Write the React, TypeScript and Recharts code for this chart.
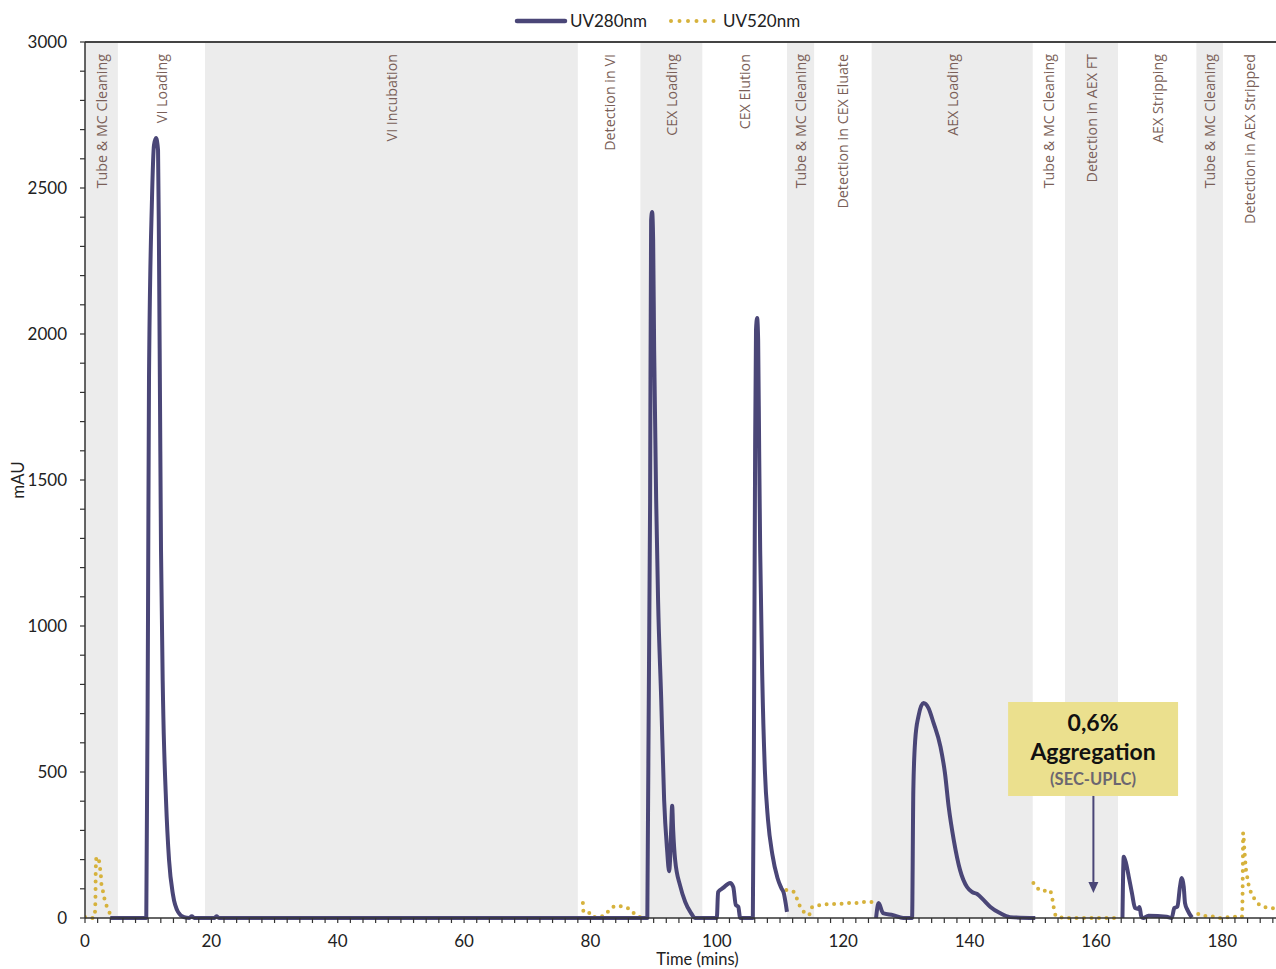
import React from 'react';
import { LineChart, Line, XAxis, YAxis, ReferenceArea, ReferenceLine } from 'recharts';

// process phases (minutes)
const bandStart = [0, 5.2, 19.0, 78.0, 87.9, 97.7, 111.1, 115.4, 124.5, 150.0, 155.1, 163.5, 175.9, 180.1];
const bandEnd = [5.2, 19.0, 78.0, 87.9, 97.7, 111.1, 115.4, 124.5, 150.0, 155.1, 163.5, 175.9, 180.1, 188.5];
const bandNames = [
  'Tube & MC Cleaning', 'VI Loading', 'VI Incubation', 'Detection in VI', 'CEX Loading', 'CEX Elution',
  'Tube & MC Cleaning', 'Detection in CEX Eluate', 'AEX Loading', 'Tube & MC Cleaning', 'Detection in AEX FT',
  'AEX Stripping', 'Tube & MC Cleaning', 'Detection in AEX Stripped',
];
const bandShaded = [true, false, true, false, true, false, true, false, true, false, true, false, true, false];

// UV280 trace, [time, mAU]
const uv280Vi = [[4.0, 0], [9.5, 0], [9.7, 0], [9.97, 1020], [10.13, 1850], [10.6, 2460], [10.92, 2647], [11.24, 2671], [11.56, 2630], [11.71, 2288], [11.87, 1774], [12.03, 1260], [12.35, 747], [12.82, 404], [13.3, 199], [13.93, 79], [14.72, 21], [15.67, 3], [16.5, 0], [16.9, 6], [17.3, 0], [20.5, 0], [20.8, 6], [21.2, 0]];
const uv280Cex = [[89.0, 0], [89.44, 1430], [89.6, 2390], [89.76, 2418], [89.92, 2322], [90.08, 1945], [90.4, 1430], [90.7, 1089], [91.2, 747], [91.66, 404], [92.13, 233], [92.45, 160], [92.6, 200], [92.77, 301], [92.93, 384], [93.09, 301], [93.4, 199], [94.2, 110], [95.0, 55], [95.8, 21], [96.6, 0], [100.0, 0], [100.2, 89], [101.0, 103], [102.1, 120], [102.6, 106], [103.0, 45], [103.4, 38], [103.7, 0], [105.7, 0], [105.9, 747], [106.06, 1603], [106.2, 2014], [106.38, 2055], [106.54, 1979], [106.7, 1603], [106.86, 1260], [107.2, 815], [107.6, 507], [108.1, 336], [108.8, 216], [109.6, 137], [110.2, 103], [110.6, 85], [110.9, 50], [111.1, 21]];
const uv280Aex = [[125.2, 0], [125.6, 51], [126.3, 17], [127.9, 10], [129.5, 0], [130.9, 0], [131.1, 438], [131.4, 610], [131.9, 690], [132.7, 736], [133.5, 719], [134.3, 668], [135.4, 586], [136.1, 497], [136.7, 380], [137.5, 267], [138.5, 164], [139.6, 106], [140.4, 89], [141.2, 82], [142.2, 62], [143.3, 38], [144.8, 17], [146.4, 3], [150.4, 0]];
const uv280Strip = [[164.2, 0], [164.4, 210], [164.7, 193], [165.2, 141], [165.7, 85], [166.2, 34], [166.7, 31], [166.9, 38], [167.2, 4], [167.5, 0], [168.3, 8], [171.2, 4], [172.0, 0], [172.4, 34], [172.9, 39], [173.3, 107], [173.6, 137], [173.9, 106], [174.1, 51], [174.5, 27], [175.2, 2]];

// UV520 trace, [time, mAU]
const uv520Start = [[0, 3], [1.27, 0], [1.58, 21], [1.66, 79], [1.7, 164], [1.8, 205], [2.0, 209], [2.2, 199], [2.37, 171], [2.5, 154], [2.56, 123], [2.83, 93], [3.09, 65], [3.48, 38], [3.99, 14], [4.4, 0]];
const uv520Vi = [[78.8, 51], [78.9, 21], [79.6, 21], [80.3, 3], [82.1, 7], [83.0, 27], [84.0, 41], [85.3, 38], [86.4, 27], [87.3, 7], [88.7, 0]];
const uv520Cex = [[111.0, 96], [112.2, 89], [112.7, 65], [113.2, 38], [114.0, 17], [114.6, 10], [114.9, 34], [115.2, 38], [116.8, 45], [118.0, 48], [119.3, 48], [120.6, 51], [121.9, 51], [123.2, 55], [124.5, 55]];
const uv520Ft = [[150.1, 120], [150.9, 99], [151.4, 92], [152.6, 96], [153.0, 79], [153.2, 51], [153.4, 27], [153.6, 10], [154.0, 3], [155.9, 0], [164.0, 0]];
const uv520Stripped = [[176.2, 14], [177.1, 7], [178.2, 7], [179.2, 0], [180.7, 2], [182.0, 4], [183.1, 4], [183.2, 68], [183.25, 180], [183.3, 291], [183.5, 233], [183.6, 205], [183.7, 176], [183.9, 147], [184.1, 120], [184.5, 90], [185.1, 65], [185.9, 45], [187.2, 35], [188.4, 33]];

const xLabels = [0, 20, 40, 60, 80, 100, 120, 140, 160, 180];
const yLabels = [0, 500, 1000, 1500, 2000, 2500, 3000];
const xTicks = Array.from({ length: 95 }, (_, i) => i * 2);
const yTicks = Array.from({ length: 31 }, (_, i) => i * 100);

const C280 = '#4a4677';
const C520 = '#d6b23c';
const FONT = 'Lato, "Open Sans", sans-serif';

// join segments, breaking the line between them
function withGaps(...segs: number[][][]) {
  const out: { t: number; v: number | null }[] = [];
  segs.forEach((s, i) => {
    if (i > 0) out.push({ t: (out[out.length - 1].t + s[0][0]) / 2, v: null });
    s.forEach(([t, v]) => out.push({ t, v }));
  });
  return out;
}

const uv280Data = withGaps([...uv280Vi, ...uv280Cex], uv280Aex, uv280Strip);
const uv520Data = withGaps(uv520Start, uv520Vi, uv520Cex, uv520Ft, uv520Stripped);

function BandLabel(props: any) {
  const { viewBox, text } = props;
  if (!viewBox) return null;
  const x = viewBox.x + viewBox.width / 2;
  const y = viewBox.y + 12;
  return (
    <text x={x} y={y} transform={`rotate(-90 ${x} ${y})`} textAnchor="end" dominantBaseline="central"
      fill="#7a5f58" fontSize={14.3} fontFamily='"Open Sans", sans-serif'>
      {text}
    </text>
  );
}

function NoteBox(props: any) {
  const { viewBox } = props;
  if (!viewBox) return null;
  const cx = viewBox.x + viewBox.width / 2;
  const top = viewBox.y;
  return (
    <g fontFamily={FONT} fontWeight={700} textAnchor="middle">
      <text x={cx} y={top + 29} fontSize={23} fill="#111">0,6%</text>
      <text x={cx} y={top + 58} fontSize={23} fill="#111">Aggregation</text>
      <text x={cx} y={top + 83} fontSize={16.5} fill="#6b6670">(SEC-UPLC)</text>
    </g>
  );
}

function Arrow(props: any) {
  const { x1, y1, x2, y2 } = props;
  return (
    <g>
      <line x1={x1} y1={y1} x2={x2} y2={y2 - 9} stroke={C280} strokeWidth={2} />
      <polygon points={`${x2 - 5},${y2 - 11} ${x2 + 5},${y2 - 11} ${x2},${y2}`} fill={C280} />
    </g>
  );
}

function YTitle(props: any) {
  const { viewBox } = props;
  const x = 17;
  const y = viewBox.y + viewBox.height / 2;
  return (
    <text x={x} y={y} transform={`rotate(-90 ${x} ${y})`} textAnchor="middle" dominantBaseline="central"
      fontSize={17} fontFamily={FONT} fill="#222">mAU</text>
  );
}

export default function App() {
  return (
    <div style={{ position: 'absolute', left: 0, top: 0, width: 1276, height: 969, background: '#fff', fontFamily: FONT }}>
      <LineChart width={1276} height={969} margin={{ top: 42, right: 0, bottom: 0, left: 0 }}>
        {bandNames.map((name, i) => (
          <ReferenceArea key={i} x1={bandStart[i]} x2={bandEnd[i]} y1={0} y2={3000}
            fill={bandShaded[i] ? '#ececec' : '#ffffff'} fillOpacity={bandShaded[i] ? 1 : 0} stroke="none"
            label={<BandLabel text={name} />} />
        ))}
        <ReferenceArea x1={146.1} x2={173.0} y1={418} y2={740} fill="#ebe08e" fillOpacity={1} stroke="none"
          label={<NoteBox />} />
        <ReferenceLine segment={[{ x: 159.6, y: 418 }, { x: 159.6, y: 86 }]} shape={Arrow} />
        <XAxis dataKey="t" type="number" domain={[0, 188.5]} allowDataOverflow ticks={xTicks} interval={0}
          tickFormatter={(v: number) => (xLabels.includes(v) ? String(v) : '')}
          height={51} tickSize={5} tickMargin={12}
          tick={{ fontSize: 17, fill: '#222', fontFamily: FONT }}
          axisLine={{ stroke: '#333', strokeWidth: 1.5 }} tickLine={{ stroke: '#333', strokeWidth: 1.2 }}
          label={{ value: 'Time (mins)', position: 'insideBottom', offset: 4, dx: 17, fontSize: 16.5, fill: '#222', fontFamily: FONT }} />
        <YAxis type="number" domain={[0, 3000]} ticks={yTicks} interval={0} width={85}
          tickFormatter={(v: number) => (yLabels.includes(v) ? String(v) : '')}
          tickSize={5} tickMargin={13}
          tick={{ fontSize: 17, fill: '#222', fontFamily: FONT }}
          axisLine={{ stroke: '#333', strokeWidth: 1.5 }} tickLine={{ stroke: '#333', strokeWidth: 1.2 }}
          label={<YTitle />} />
        <ReferenceLine y={3000} stroke="#444" strokeWidth={2} />
        <Line data={uv520Data} dataKey="v" type="monotone" stroke={C520} strokeWidth={4}
          strokeDasharray="0 7.5" strokeLinecap="round" dot={false} activeDot={false}
          connectNulls={false} isAnimationActive={false} />
        <Line data={uv280Data} dataKey="v" type="monotone" stroke={C280} strokeWidth={4}
          strokeLinejoin="round" dot={false} activeDot={false}
          connectNulls={false} isAnimationActive={false} />
      </LineChart>
      <div style={{ position: 'absolute', left: 514, top: 10, display: 'flex', alignItems: 'center', fontSize: 17, color: '#222', lineHeight: '22px' }}>
        <svg width={54} height={10}>
          <line x1={3} y1={5} x2={51} y2={5} stroke={C280} strokeWidth={4.5} strokeLinecap="round" />
        </svg>
        <span style={{ marginLeft: 2 }}>UV280nm</span>
        <svg width={54} height={10} style={{ marginLeft: 20 }}>
          <line x1={4} y1={5} x2={50} y2={5} stroke={C520} strokeWidth={4} strokeDasharray="0 8.5" strokeLinecap="round" />
        </svg>
        <span style={{ marginLeft: 2 }}>UV520nm</span>
      </div>
    </div>
  );
}
